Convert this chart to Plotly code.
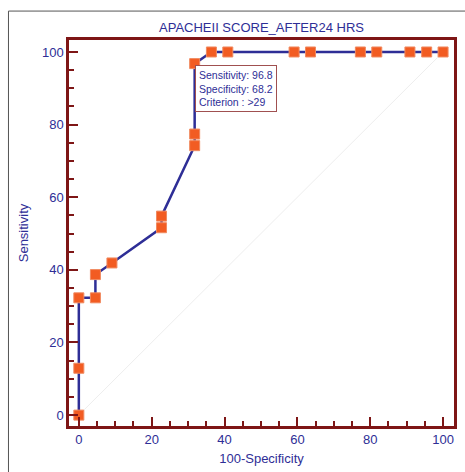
import plotly.graph_objects as go

# ROC curve data (100-Specificity, Sensitivity)
fpr = [0, 0, 0, 4.55, 4.55, 9.09, 22.7, 22.7, 31.8, 31.8, 31.8, 36.4, 40.9, 59.1, 63.6, 77.3, 81.8, 90.9, 95.5, 100]
tpr = [0, 12.9, 32.3, 32.3, 38.7, 41.9, 51.6, 54.8, 74.2, 77.4, 96.8, 100, 100, 100, 100, 100, 100, 100, 100, 100]
diag_x = [0, 100]
diag_y = [0, 100]
ticks = [0, 20, 40, 60, 80, 100]
title_text = "APACHEII SCORE_AFTER24 HRS"
box_lines = ["Sensitivity: 96.8", "Specificity: 68.2", "Criterion : >29"]
crit_point = (31.8, 96.8)

blue = "#2E2E96"
red = "#7E1616"
orange = "#F25C22"
font = "Liberation Sans, Arial, sans-serif"

fig = go.Figure()
fig.add_trace(go.Scatter(x=diag_x, y=diag_y, mode="lines",
                         line=dict(color="#EEEEEE", width=1), hoverinfo="skip"))
fig.add_trace(go.Scatter(x=fpr, y=tpr, mode="lines+markers",
                         line=dict(color=blue, width=2.5),
                         marker=dict(symbol="square", size=10, color=orange,
                                     line=dict(color="#F08A60", width=1))))

axis_common = dict(
    showgrid=False, zeroline=False, showline=True, linecolor=red, linewidth=2.5,
    mirror=True, ticks="inside", ticklen=9, tickwidth=2, tickcolor=red,
    tickvals=ticks, tickfont=dict(color=blue, size=13, family=font),
    minor=dict(ticks="inside", ticklen=5, tickwidth=1.5, tickcolor=red, dtick=5),
)

fig.update_layout(
    width=465, height=472,
    margin=dict(l=69, r=8, t=40, b=45),
    paper_bgcolor="white", plot_bgcolor="white",
    showlegend=False,
    font=dict(family=font, color=blue),
    title=dict(text=title_text, x=0.5, xref="paper", xanchor="center",
               y=1 - 27 / 472, yanchor="middle",
               font=dict(size=13, color=blue, family=font)),
    xaxis=dict(range=[-2.7, 103], title=dict(text="100-Specificity", standoff=8,
               font=dict(size=13, color=blue, family=font)), **axis_common),
    yaxis=dict(range=[-3, 103.3], title=dict(text="Sensitivity", standoff=11,
               font=dict(size=13, color=blue, family=font)), **axis_common),
)

fig.add_annotation(x=crit_point[0], y=crit_point[1], xref="x", yref="y",
                   text="<br>".join(box_lines), showarrow=False,
                   xanchor="left", yanchor="top", align="left", yshift=-1,
                   font=dict(size=10.5, color=blue, family=font),
                   bordercolor="#A05050", borderwidth=1, borderpad=3, bgcolor="white")

# outer frame of the figure
fig.add_shape(type="rect", xref="paper", yref="paper",
              x0=(8 - 69) / 388, x1=1.5, y0=-0.5, y1=(427 - 11) / 387,
              line=dict(color="#555555", width=1), layer="below")

fig.write_html("out.html")
